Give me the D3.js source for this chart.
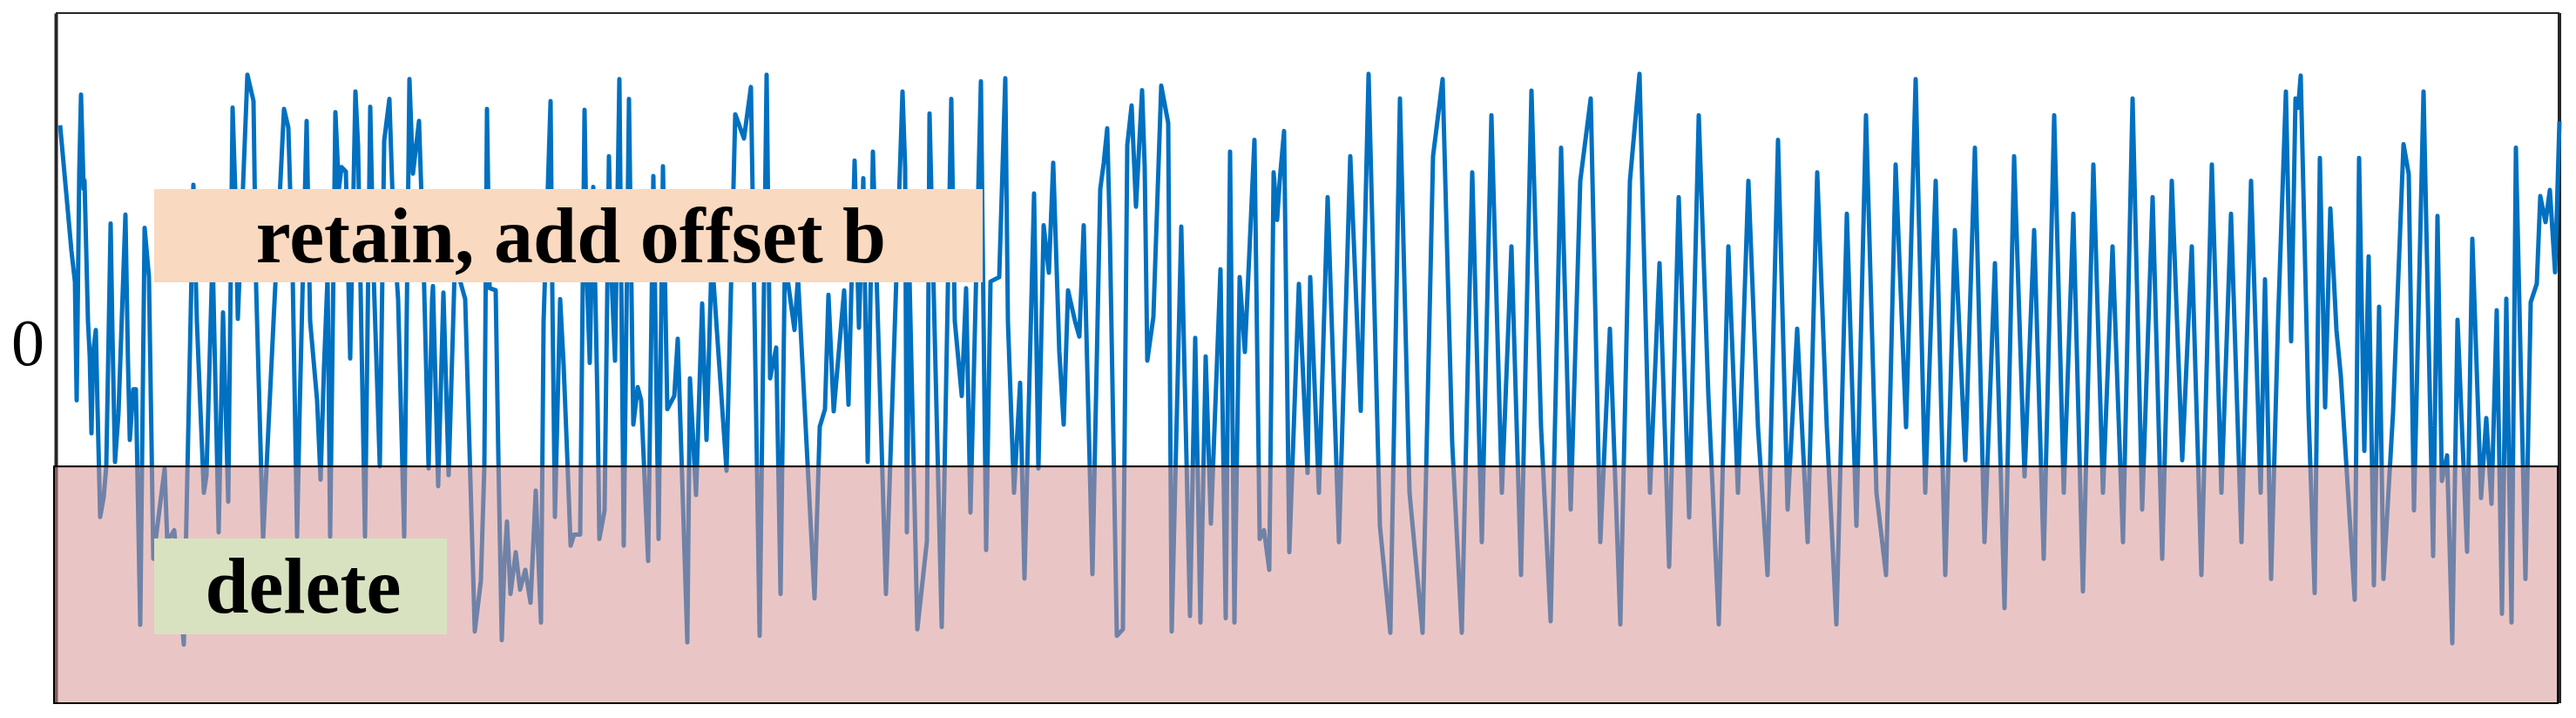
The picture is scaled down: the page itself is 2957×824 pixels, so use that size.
<!DOCTYPE html>
<html>
<head>
<meta charset="utf-8">
<script src="https://cdn.jsdelivr.net/npm/d3@7"></script>
<style>
  body { margin: 0; background: #fff; }
  svg { display: block; }
</style>
</head>
<body>
<svg id="chart"></svg>
<script>
// sample position and signal value
const sampleT = [5,13,18,22,24,27,29,32,33,37,39,41,43,46,48,51,55,58,63,65,68,72,80,83,85,89,92,97,102,107,112,117,125,128,136,147,158,162,170,173,180,187,192,198,203,206,209,220,227,230,
  238,250,262,267,272,277,280,288,292,300,304,308,312,315,321,325,328,333,338,344,347,355,361,365,372,377,383,388,393,400,406,410,417,422,428,432,433,439,445,451,458,463,470,
  481,488,492,495,498,505,508,512,515,518,522,528,533,539,545,551,557,560,568,570,573,579,583,587,591,595,602,607,610,613,617,622,624,630,635,638,642,647,652,658,662,663,668,672,680,686,692,697,702,710,714,
  725,728,735,742,747,753,770,780,790,798,808,816,820,827,832,837,848,852,871,877,883,887,893,905,910,917,922,927,932,938,953,
  972,975,977,980,989,1000,1003,1008,1017,1028,1032,1040,1045,1050,1062,1068,1073,1083,1090,1093,1100,1107,1112,1123,1128,1134,1140,1145,1152,1157,1162,1170,1175,1180,1190,1199,
  1203,1207,1210,1218,1225,1230,1235,1240,1247,1250,1253,1260,1269,1277,1281,1292,1302,1308,1314,1320,1326,1337,1343,1348,1353,1359,1365,1376,1382,1387,1393,1398,1402,1405,1410,1416,1427,1437,1440,
  1450,1460,1473,1486,1498,1507,1520,1532,1543,1554,1569,1581,1592,1603,1614,1626,1637,1648,1660,1671,1682,1694,1705,1716,1728,1739,1750,1762,1773,1784,1796,1807,1818,1830,1841,1852,1863,1875,1886,1897,1909,1920,1931,1943,1954,1965,1977,1988,1999,
  2011,2022,2033,2044,2056,2067,2078,2090,2101,2112,2124,2135,2146,2158,2169,2180,2192,2203,2214,2226,2237,2248,2260,2271,2282,2294,2305,2316,2327,2339,2350,2361,2373,2384,2395,2407,2418,2429,2441,2452,2463,2475,2486,2497,2509,2520,2531,
  2536,2543,2551,2560,2566,2571,2574,2577,2586,2593,2599,2605,2611,2618,2623,2639,2644,2650,2655,2661,2667,2672,2683,2695,2701,2707,2718,2729,2734,2739,2745,2751,2757,2768,2774,2784,2790,2796,2802,2808,2813,2819,2824,2835,2841,2848,2852,2858,2863,2869,2874];
const signal = [491,316,206,136,-134,386,561,346,366,46,-34,-209,-24,26,-154,-399,-354,-284,268,26,-274,-164,288,-54,-224,-109,-109,-644,258,146,-494,-414,-289,-454,-429,-689,356,46,-344,-304,200,-434,66,-364,531,346,51,606,546,126,
  -450,46,528,486,146,-444,-154,501,46,-134,-314,-54,146,-444,521,346,396,386,-39,568,446,-444,533,146,-284,456,551,246,96,-444,596,381,501,196,-289,96,126,-329,111,-304,166,146,96,
  -659,-544,-284,528,121,116,-254,-679,-504,-409,-574,-479,-564,-519,-594,-339,-639,46,546,116,-399,96,-54,-254,-464,-439,-439,526,126,-49,351,-154,-449,-384,421,146,-44,596,-464,551,-54,-189,-104,-134,-499,376,-449,398,-154,-124,6,
  -684,-84,-349,86,-224,196,-294,516,461,578,-669,606,-84,-14,-574,186,26,146,-584,-194,-154,106,-159,116,-144,411,31,371,-274,431,-574,
  568,396,-434,146,-654,-454,518,96,-649,551,46,-124,121,-389,591,-474,136,146,598,46,-344,-94,-539,336,-289,264,156,406,-24,-189,116,46,11,264,-529,346,
  406,484,246,-669,-654,446,536,306,571,396,-44,56,581,496,-659,261,-624,8,-639,-34,-414,164,-629,431,-639,146,-24,458,-449,-429,-519,384,276,366,478,-479,131,-299,146,
  -344,328,-456,421,-158,608,-419,-662,552,-344,-662,421,596,-232,-662,384,-456,514,-344,216,-531,570,-195,-636,440,-382,365,552,-456,29,-643,365,608,-344,178,-512,328,-400,514,-120,-643,216,-344,365,-195,-531,458,-382,29,
  -456,384,-195,-643,290,-419,514,-344,-531,402,-195,596,-344,365,-531,253,-270,440,-456,178,-606,421,-307,253,-494,514,-344,290,-568,402,-344,216,-456,552,-382,328,-494,365,-270,216,-531,402,-344,290,-456,365,-344,
  141,-540,47,568,0,552,531,604,-161,-572,417,-150,302,26,-77,-587,417,-249,193,-554,79,-540,-161,448,380,-384,568,-488,285,-317,-259,-686,49,-478,233,-356,-174,-369,71,-619,97,-639,440,-540,89,131,330,271,344,157,500];

const yTicks = [0];
const tickText = ["0"];
const cutLevel = -284;          // below this the values are deleted
const boxes = [
  { text: "retain, add offset b", fill: "#f9d9bf" },
  { text: "delete", fill: "#d8e2c0" }
];

const W = 2957, H = 824;
const svg = d3.select("#chart").attr("width", W).attr("height", H);

const x = d3.scaleLinear().domain([0, 2874]).range([64, 2938]);
const y = d3.scaleLinear().domain([-822, 746]).range([807, 15]);

// top frame line
svg.append("line")
   .attr("x1", 64).attr("x2", 2938)
   .attr("y1", 15).attr("y2", 15)
   .attr("stroke", "#262626").attr("stroke-width", 2);

// left axis
const yAxis = d3.axisLeft(y)
    .tickValues(yTicks)
    .tickFormat((d, i) => tickText[i])
    .tickSize(0)
    .tickPadding(13);

const gAxis = svg.append("g")
   .attr("transform", "translate(64,0)")
   .call(yAxis);
gAxis.select(".domain").attr("stroke", "#262626").attr("stroke-width", 4);
gAxis.selectAll("text")
   .attr("font-family", "'Liberation Serif', 'Times New Roman', serif")
   .attr("font-size", 76)
   .attr("fill", "#000")
   .attr("dy", "0.35em");

// right frame line
svg.append("line")
   .attr("x1", 2938).attr("x2", 2938)
   .attr("y1", 15).attr("y2", 807)
   .attr("stroke", "#262626").attr("stroke-width", 4);

// the signal
const pts = sampleT.map((t, i) => [t, signal[i]]);
const line = d3.line().x(d => x(d[0])).y(d => y(d[1]));

svg.append("path")
   .datum(pts)
   .attr("d", line)
   .attr("fill", "none")
   .attr("stroke", "#0070c0")
   .attr("stroke-width", 5)
   .attr("stroke-linejoin", "round");

// delete zone overlay
svg.append("rect")
   .attr("x", x(0) - 2)
   .attr("y", y(cutLevel))
   .attr("width", x(2874) - x(0))
   .attr("height", y(-822) - y(cutLevel))
   .attr("fill", "rgb(213,147,145)")
   .attr("fill-opacity", 0.525)
   .attr("stroke", "#000")
   .attr("stroke-width", 2);

// label boxes
const boxPos = [
  { x: 177, y: 217, w: 951, h: 107 },
  { x: 177, y: 618, w: 336, h: 110 }
];
const lab = svg.selectAll(".lab")
   .data(boxes)
   .enter()
   .append("g")
   .attr("class", "lab");

lab.append("rect")
   .attr("x", (d, i) => boxPos[i].x)
   .attr("y", (d, i) => boxPos[i].y)
   .attr("width", (d, i) => boxPos[i].w)
   .attr("height", (d, i) => boxPos[i].h)
   .attr("fill", d => d.fill);

lab.append("text")
   .attr("x", (d, i) => boxPos[i].x + boxPos[i].w / 2 + 3)
   .attr("y", (d, i) => boxPos[i].y + boxPos[i].h / 2 + 30)
   .attr("text-anchor", "middle")
   .attr("font-family", "'Liberation Serif', 'Times New Roman', serif")
   .attr("font-weight", "bold")
   .attr("font-size", 90)
   .attr("fill", "#000")
   .text(d => d.text);
</script>
</body>
</html>
